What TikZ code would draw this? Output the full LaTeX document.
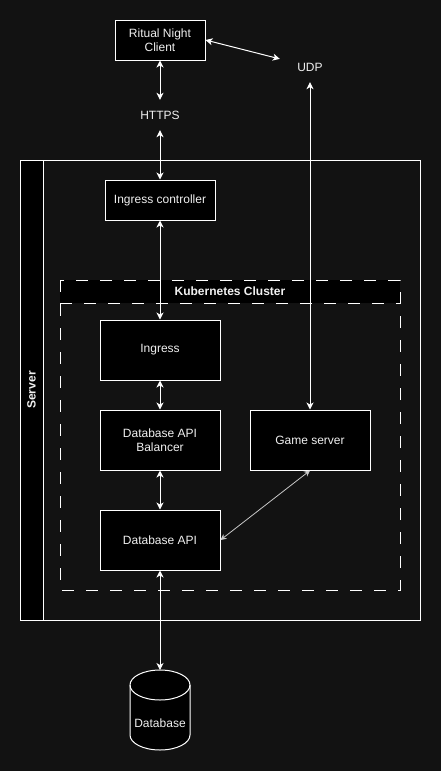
\documentclass[tikz,border=0pt]{standalone}
\usepackage{fontspec}
\setmainfont{Liberation Sans}
\usetikzlibrary{arrows.meta}
\definecolor{bgcol}{HTML}{121212}
\definecolor{txtcol}{HTML}{F0F0F0}
\definecolor{linkgray}{HTML}{C8C8C8}
\tikzset{
  frame/.style={draw=white,line width=1pt},
  kdash/.style={dash pattern=on 12pt off 12pt},
  box/.style={frame,fill=black,text=txtcol,align=center,inner sep=0pt,font=\fontsize{12}{14}\selectfont},
  proto/.style={text=txtcol,minimum width=60pt,minimum height=30pt,inner sep=0pt,font=\fontsize{12}{14}\selectfont},
  title/.style={text=txtcol,inner sep=0pt,font=\fontsize{12}{14}\selectfont\bfseries},
  link/.style={draw=white,line width=1pt,{Stealth[length=7pt,width=7pt,inset=2pt]}-{Stealth[length=7pt,width=7pt,inset=2pt]}},
  softlink/.style={draw=linkgray,line width=0.8pt,{Stealth[length=6pt,width=6pt,inset=2pt]}-{Stealth[length=6pt,width=6pt,inset=2pt]}}
}
\begin{document}
\begin{tikzpicture}[x=1pt,y=-1pt]
  \fill[bgcol] (0,0) rectangle (441,771);
  \draw[frame] (20,160) rectangle (420,620);
  \draw[frame,fill=black] (20,160) rectangle (43,620);
  \node[title,rotate=90] (server) at (31.5,390) {Server};
  \fill[black] (60,280) rectangle (400,303);
  \draw[frame,kdash] (60,280) rectangle (400,590) (60,303) -- (400,303);
  \node[title] (cluster) at (230,291.5) {Kubernetes Cluster};

  \node[box,minimum width=90pt,minimum height=40pt] (client) at (160,40) {Ritual Night\\Client};
  \node[proto] (https) at (160,115) {HTTPS};
  \node[proto] (udp) at (310,67) {UDP};
  \node[box,minimum width=110pt,minimum height=40pt] (ctrl) at (160,200) {Ingress controller};
  \node[box,minimum width=120pt,minimum height=60pt] (ingress) at (160,350) {Ingress};
  \node[box,minimum width=120pt,minimum height=60pt] (balancer) at (160,440) {Database API\\Balancer};
  \node[box,minimum width=120pt,minimum height=60pt] (game) at (310,440) {Game server};
  \node[box,minimum width=120pt,minimum height=60pt] (dbapi) at (160,540) {Database API};

  \draw[frame,fill=black] (130,685) -- (130,735) arc[start angle=180,end angle=360,x radius=30pt,y radius=15pt]
    -- (190,685) arc[start angle=0,end angle=180,x radius=30pt,y radius=15pt] -- cycle;
  \draw[frame] (130,685) arc[start angle=180,end angle=360,x radius=30pt,y radius=15pt];
  \coordinate (dbtop) at (160,670);
  \node[proto] (database) at (160,723) {Database};

  \foreach \a/\b in {client/https,https/ctrl,ctrl/ingress,ingress/balancer,balancer/dbapi,dbapi/dbtop,game/udp}
    \draw[link] (\a) -- (\b);
  \draw[link] (client.east) -- (udp.165);
  \draw[softlink] (dbapi.east) -- (game.south);
\end{tikzpicture}
\end{document}
